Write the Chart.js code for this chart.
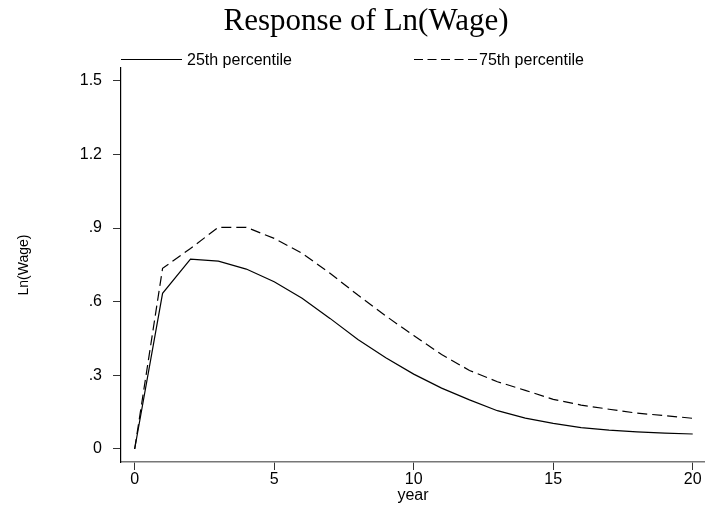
<!DOCTYPE html>
<html lang="en">

<head>
    <meta charset="UTF-8">
    <title>Response of Ln(Wage)</title>
    <style>
        body {
            margin: 0;
            padding: 0;
            background: #fff;
        }

        #chart {
            display: block;
        }
    </style>
</head>

<body>
    <canvas id="chart" width="705" height="507"></canvas>

    <script src="https://cdn.jsdelivr.net/npm/chart.js"></script>
    <script>
        // data
        const years = [0, 1, 2, 3, 4, 5, 6, 7, 8, 9, 10, 11, 12, 13, 14, 15, 16, 17, 18, 19, 20];
        const p25 = [0, 0.634, 0.773, 0.765, 0.733, 0.681, 0.614, 0.532, 0.446, 0.372, 0.305, 0.248, 0.200, 0.156, 0.126, 0.104, 0.087, 0.077, 0.070, 0.065, 0.061];
        const p75 = [0, 0.736, 0.817, 0.903, 0.903, 0.858, 0.797, 0.716, 0.627, 0.542, 0.462, 0.385, 0.320, 0.274, 0.239, 0.202, 0.179, 0.162, 0.146, 0.136, 0.125];
        const xTicks = [0, 5, 10, 15, 20];
        const yTicks = [0, 0.3, 0.6, 0.9, 1.2, 1.5];
        const yTickLabels = ['0', '.3', '.6', '.9', '1.2', '1.5'];
        const seriesNames = ['25th percentile', '75th percentile'];

        const sans = "'Liberation Sans', Arial, sans-serif";

        // title + legend drawn on top, Stata style
        const headerPlugin = {
            id: 'header',
            afterDraw(chart) {
                const ctx = chart.ctx;
                ctx.save();
                ctx.fillStyle = '#000';
                ctx.font = "31px 'Liberation Serif', 'Times New Roman', serif";
                ctx.textAlign = 'center';
                ctx.textBaseline = 'alphabetic';
                ctx.fillText('Response of Ln(Wage)', 366, 30);

                ctx.font = '16px ' + sans;
                ctx.textAlign = 'left';
                ctx.strokeStyle = '#000';
                ctx.lineWidth = 1.2;
                // solid
                ctx.setLineDash([]);
                ctx.beginPath();
                ctx.moveTo(121, 59.5);
                ctx.lineTo(182, 59.5);
                ctx.stroke();
                ctx.fillText(seriesNames[0], 187, 65);
                // dashed
                ctx.setLineDash([9, 4.5]);
                ctx.beginPath();
                ctx.moveTo(414, 59.5);
                ctx.lineTo(477, 59.5);
                ctx.stroke();
                ctx.setLineDash([]);
                ctx.fillText(seriesNames[1], 479, 65);
                ctx.restore();
            }
        };

        const toPoints = vals => years.map((x, i) => ({ x: x, y: vals[i] }));

        const ctx = document.getElementById('chart').getContext('2d');
        const chart = new Chart(ctx, {
            type: 'line',
            data: {
                datasets: [{
                    label: seriesNames[0],
                    data: toPoints(p25),
                    borderColor: '#000',
                    borderWidth: 1.2,
                    pointRadius: 0,
                    tension: 0
                }, {
                    label: seriesNames[1],
                    data: toPoints(p75),
                    borderColor: '#000',
                    borderWidth: 1.2,
                    borderDash: [10, 5],
                    pointRadius: 0,
                    tension: 0
                }]
            },
            options: {
                responsive: false,
                animation: false,
                layout: {
                    padding: { top: 68, left: 0, right: 0, bottom: 0 }
                },
                plugins: {
                    legend: { display: false },
                    tooltip: { enabled: false }
                },
                scales: {
                    x: {
                        type: 'linear',
                        min: -0.49,
                        max: 20.44,
                        afterBuildTicks: s => { s.ticks = xTicks.map(v => ({ value: v })); },
                        afterFit: s => { s.height = 45; },
                        border: { display: true, color: '#777', width: 1.5 },
                        grid: { drawOnChartArea: false, drawTicks: true, tickLength: 8, color: '#333' },
                        ticks: {
                            color: '#000',
                            padding: 0,
                            maxRotation: 0,
                            font: { family: sans, size: 16 },
                            callback: v => String(v)
                        },
                        title: {
                            display: true,
                            text: 'year',
                            color: '#000',
                            padding: { top: 0, bottom: 2 },
                            font: { family: sans, size: 16 }
                        }
                    },
                    y: {
                        type: 'linear',
                        min: -0.053,
                        max: 1.552,
                        afterBuildTicks: s => { s.ticks = yTicks.map(v => ({ value: v })); },
                        afterFit: s => { s.width = 121; },
                        border: { display: true, color: '#000', width: 1.2 },
                        grid: { drawOnChartArea: false, drawTicks: true, tickLength: 8, color: '#333' },
                        ticks: {
                            color: '#000',
                            padding: 11,
                            font: { family: sans, size: 16 },
                            callback: v => yTickLabels[yTicks.indexOf(v)]
                        },
                        title: {
                            display: true,
                            text: 'Ln(Wage)',
                            color: '#000',
                            padding: { top: 16, bottom: 0 },
                            font: { family: sans, size: 14 }
                        }
                    }
                }
            },
            plugins: [headerPlugin]
        });
    </script>
</body>

</html>
